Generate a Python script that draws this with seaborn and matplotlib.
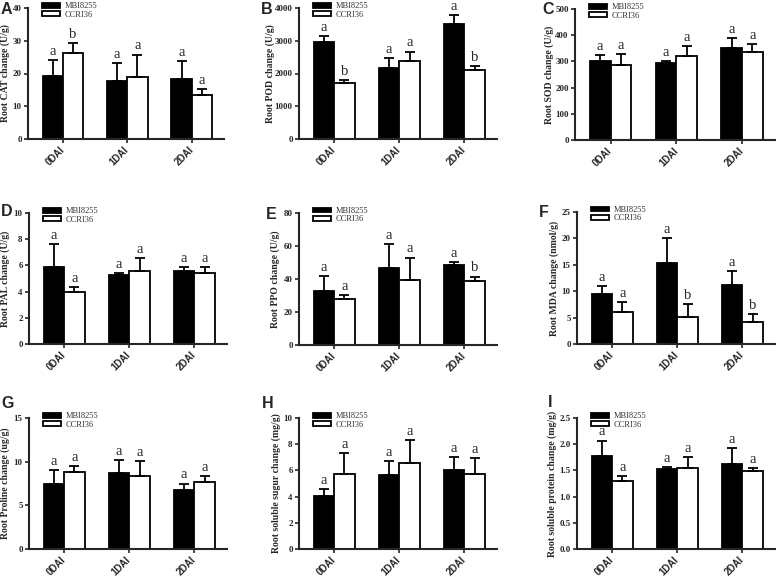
import numpy as np
import pandas as pd
import matplotlib
matplotlib.use("Agg")
import matplotlib.pyplot as plt
from matplotlib.ticker import FormatStrFormatter
import seaborn as sns

days = ["0DAI", "1DAI", "2DAI"]
strains = ["MBI8255", "CCRI36"]

# A - CAT
cat_mbi = [19.3, 17.7, 18.2]
cat_mbi_err = [4.7, 5.5, 5.6]
cat_ccri = [26.4, 19.0, 13.3]
cat_ccri_err = [2.9, 6.8, 1.9]
cat_letters = ["a", "b", "a", "a", "a", "a"]

# B - POD
pod_mbi = [2960, 2180, 3520]
pod_mbi_err = [190, 290, 260]
pod_ccri = [1720, 2380, 2100]
pod_ccri_err = [70, 290, 140]
pod_letters = ["a", "b", "a", "a", "a", "b"]

# C - SOD
sod_mbi = [303, 295, 350]
sod_mbi_err = [20, 7, 38]
sod_ccri = [288, 320, 335]
sod_ccri_err = [39, 38, 31]
sod_letters = ["a", "a", "a", "a", "a", "a"]

# D - PAL
pal_mbi = [5.9, 5.3, 5.55]
pal_mbi_err = [1.75, 0.15, 0.35]
pal_ccri = [3.95, 5.6, 5.45]
pal_ccri_err = [0.4, 0.95, 0.45]
pal_letters = ["a", "a", "a", "a", "a", "a"]

# E - PPO
ppo_mbi = [33.0, 46.5, 48.5]
ppo_mbi_err = [9.0, 14.5, 2.0]
ppo_ccri = [28.0, 39.5, 38.5]
ppo_ccri_err = [2.3, 13.5, 3.0]
ppo_letters = ["a", "a", "a", "a", "a", "b"]

# F - MDA
mda_mbi = [9.4, 15.4, 11.1]
mda_mbi_err = [1.5, 4.6, 2.7]
mda_ccri = [6.0, 5.1, 4.2]
mda_ccri_err = [1.9, 2.5, 1.5]
mda_letters = ["a", "a", "a", "b", "a", "b"]

# G - Proline
pro_mbi = [7.5, 8.65, 6.8]
pro_mbi_err = [1.5, 1.55, 0.7]
pro_ccri = [8.85, 8.4, 7.7]
pro_ccri_err = [0.7, 1.7, 0.65]
pro_letters = ["a", "a", "a", "a", "a", "a"]

# H - soluble sugar
sug_mbi = [4.05, 5.65, 6.0]
sug_mbi_err = [0.5, 1.05, 1.0]
sug_ccri = [5.75, 6.55, 5.75]
sug_ccri_err = [1.55, 1.8, 1.2]
sug_letters = ["a", "a", "a", "a", "a", "a"]

# I - soluble protein
prot_mbi = [1.78, 1.53, 1.63]
prot_mbi_err = [0.29, 0.03, 0.29]
prot_ccri = [1.30, 1.55, 1.49]
prot_ccri_err = [0.09, 0.20, 0.06]
prot_letters = ["a", "a", "a", "a", "a", "a"]

panels = [
    ("A", "Root CAT change (U/g)", cat_mbi, cat_mbi_err, cat_ccri, cat_ccri_err, cat_letters, 40, 10, "%d"),
    ("B", "Root POD change (U/g)", pod_mbi, pod_mbi_err, pod_ccri, pod_ccri_err, pod_letters, 4000, 1000, "%d"),
    ("C", "Root SOD change (U/g)", sod_mbi, sod_mbi_err, sod_ccri, sod_ccri_err, sod_letters, 500, 100, "%d"),
    ("D", "Root PAL change (U/g)", pal_mbi, pal_mbi_err, pal_ccri, pal_ccri_err, pal_letters, 10, 2, "%d"),
    ("E", "Root PPO change (U/g)", ppo_mbi, ppo_mbi_err, ppo_ccri, ppo_ccri_err, ppo_letters, 80, 20, "%d"),
    ("F", "Root MDA change (nmol/g)", mda_mbi, mda_mbi_err, mda_ccri, mda_ccri_err, mda_letters, 25, 5, "%d"),
    ("G", "Root Proline change (ug/g)", pro_mbi, pro_mbi_err, pro_ccri, pro_ccri_err, pro_letters, 15, 5, "%d"),
    ("H", "Root soluble sugur change (mg/g)", sug_mbi, sug_mbi_err, sug_ccri, sug_ccri_err, sug_letters, 10, 2, "%d"),
    ("I", "Root soluble protein change (mg/g)", prot_mbi, prot_mbi_err, prot_ccri, prot_ccri_err, prot_letters, 2.5, 0.5, "%.1f"),
]

# axes boxes in pixels: left, top, right, bottom
W, H = 778, 577
boxes = [
    (28, 8, 224, 139), (299, 8, 497, 139), (575, 9, 775, 140),
    (29, 213, 227, 344), (299, 213, 497, 345), (577, 212, 775, 344),
    (29, 418, 227, 549), (299, 418, 497, 549), (577, 418, 775, 549),
]
letter_pos = [
    (1, 2), (261, 2), (542, 2),
    (1, 204), (266, 207), (539, 205),
    (1, 396), (262, 396), (548, 395),
]
ylabel_x = [-0.09, -0.12, -0.105, -0.095, -0.095, -0.09, -0.095, -0.09, -0.1]

sns.set_style("ticks")
plt.rcParams["font.family"] = ["Liberation Serif", "DejaVu Serif"]

fig = plt.figure(figsize=(W / 100, H / 100), dpi=100)

for (tag, ylab, mbi, mbi_err, ccri, ccri_err, letters, ymax, ystep, fmt), box, lp, lx in zip(
        panels, boxes, letter_pos, ylabel_x):
    l, t, r, b = box
    ax = fig.add_axes([l / W, 1 - b / H, (r - l) / W, (b - t) / H])

    df = pd.DataFrame({
        "day": days * 2,
        "strain": [strains[0]] * 3 + [strains[1]] * 3,
        "value": mbi + ccri,
    })
    sns.barplot(data=df, x="day", y="value", hue="strain", order=days, hue_order=strains,
                palette=["black", "white"], edgecolor="black", linewidth=1.3,
                errorbar=None, width=0.63, gap=0, ax=ax)

    # one-sided error bars and significance letters, ordered by bar position
    bars = sorted([p for p in ax.patches if p.get_height() > 0], key=lambda p: p.get_x())
    errs = [e for pair in zip(mbi_err, ccri_err) for e in pair]
    for p, e, let in zip(bars, errs, letters):
        xc = p.get_x() + p.get_width() / 2
        h = p.get_height()
        ax.errorbar(xc, h, yerr=[[0], [e]], fmt="none", ecolor="black",
                    elinewidth=1.3, capsize=3.5, capthick=1.3, zorder=1)
        ax.annotate(let, (xc, h + e), xytext=(0, 1.5), textcoords="offset points",
                    ha="center", va="bottom", fontsize=10.5)

    ax.set_xlim(-0.54, 2.5)
    ax.set_ylim(0, ymax)
    ax.set_yticks(np.arange(0, ymax + ystep / 2, ystep))
    ax.yaxis.set_major_formatter(FormatStrFormatter(fmt))
    for lab in ax.get_yticklabels():
        lab.set_fontweight("bold")
        lab.set_fontsize(6.5)
    ax.set_xlabel("")
    ax.set_ylabel(ylab, fontsize=7, fontweight="bold")
    ax.yaxis.set_label_coords(lx, 0.5)
    ax.set_xticks(range(3))
    ax.set_xticklabels(days, rotation=45, ha="right", va="center", rotation_mode="anchor",
                       fontsize=7, fontweight="bold", family="Liberation Sans")
    ax.tick_params(axis="both", width=1.2, length=3, pad=1.5)
    ax.tick_params(axis="x", pad=4)
    for s in ["left", "bottom"]:
        ax.spines[s].set_linewidth(1.5)
    sns.despine(ax=ax)

    handles, labels = ax.get_legend_handles_labels()
    leg = ax.legend(handles, labels, loc="upper left", bbox_to_anchor=(0.07, 1.045),
                    frameon=False, fontsize=6, handlelength=2.2, handleheight=0.5,
                    handletextpad=0.5, labelspacing=0.05, borderaxespad=0, borderpad=0)
    for txt in leg.get_texts():
        txt.set_color("#333333")

    fig.text(lp[0] / W, 1 - lp[1] / H, tag, ha="left", va="top", fontsize=11.5,
             fontweight="bold", family="Liberation Sans")

fig.savefig("out.png", dpi=100)
